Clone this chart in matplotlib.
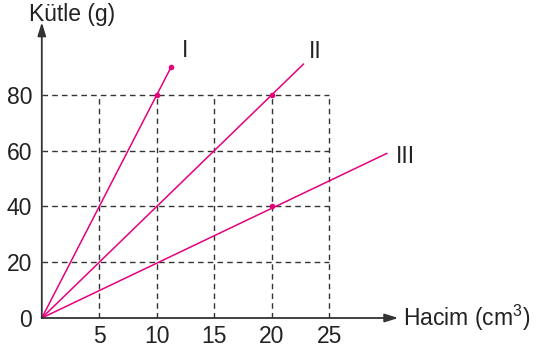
import matplotlib
matplotlib.use('Agg')
import matplotlib.pyplot as plt

plt.rcParams['font.family'] = ['Liberation Sans', 'DejaVu Sans']
plt.rcParams['mathtext.default'] = 'regular'

# values
x_ticks = [5, 10, 15, 20, 25]
y_ticks = [0, 20, 40, 60, 80]
line_names = ['I', 'II', 'III']
line_x = [[0, 11.25], [0, 22.75], [0, 30]]
line_y = [[0, 90], [0, 91], [0, 59]]
dots_x = [10, 20, 20, 11.25]
dots_y = [80, 80, 40, 90]
name_x = [12.5, 23.8, 31.6]
name_y = [96, 95.5, 58]

pink = '#e6007e'
grey = '#333333'
fs = 16.5

fig = plt.figure(figsize=(5.37, 3.53), dpi=100)
ax = fig.add_axes([41.8/537, 35/353, 356.5/537, 295.7/353])
ax.set_xlim(0, 31)
ax.set_ylim(0, 106)
for s in ax.spines.values():
	s.set_visible(False)

# dashed guide lines
for x in x_ticks:
	ax.plot([x, x], [0, 80], ls=(0, (4, 3)), color=grey, lw=1)
for y in y_ticks[1:]:
	ax.plot([0, 25], [y, y], ls=(0, (4, 3)), color=grey, lw=1)

for xs, ys in zip(line_x, line_y):
	ax.plot(xs, ys, color=pink, lw=1.1, clip_on=False)
ax.plot(dots_x, dots_y, 'o', color=pink, ms=3, clip_on=False)

for name, x, y in zip(line_names, name_x, name_y):
	ax.text(x, y, name, fontsize=fs, color='#222222', ha='center', va='center')

# axes with arrows
ax.annotate('', xy=(31, 0), xytext=(0, 0), annotation_clip=False,
	arrowprops=dict(arrowstyle='-|>,head_length=0.8,head_width=0.25', color=grey, lw=1.3, shrinkA=0, shrinkB=0))
ax.annotate('', xy=(0, 106), xytext=(0, 0), annotation_clip=False,
	arrowprops=dict(arrowstyle='-|>,head_length=0.8,head_width=0.25', color=grey, lw=1.3, shrinkA=0, shrinkB=0))

ax.set_xticks(x_ticks)
ax.set_yticks(y_ticks)
ax.tick_params(length=0, labelsize=fs, colors='#222222')
ax.tick_params(axis='x', pad=5)
ax.tick_params(axis='y', pad=7)

fig.text(72/537, 1 - 14/353, 'Kütle (g)', fontsize=fs, ha='center', va='center', color='#222222')
fig.text(403/537, 1 - 318/353, 'Hacim (cm$^3$)', fontsize=fs, ha='left', va='center', color='#222222')

plt.savefig('out.png')
